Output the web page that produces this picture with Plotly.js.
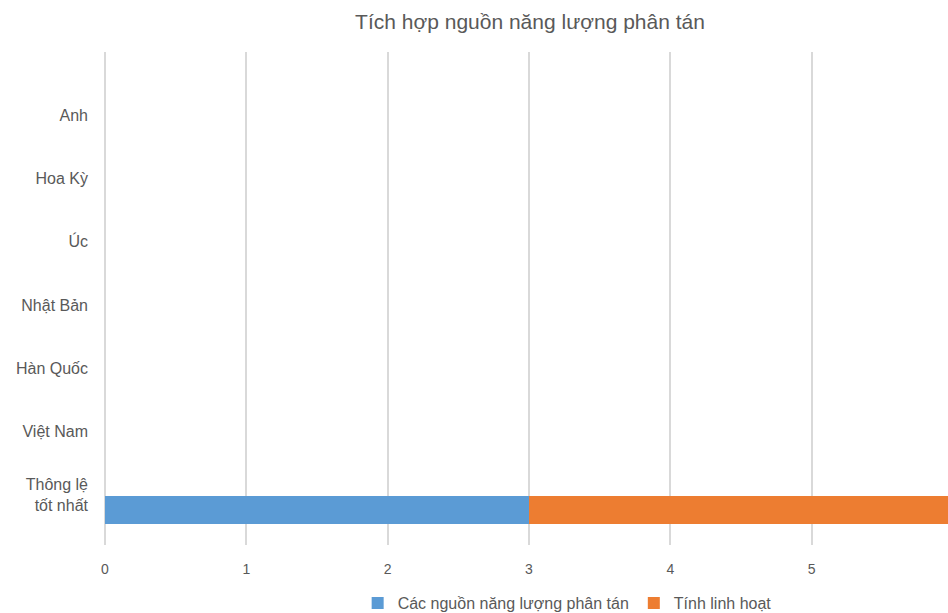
<!DOCTYPE html>
<html>
<head>
<meta charset="utf-8">
<script src="https://cdn.plot.ly/plotly-3.0.1.min.js"></script>
<style>
html,body{margin:0;padding:0;overflow:hidden;background:#fff;width:948px;height:613px;}
#chart{width:1060px;height:613px;}
</style>
</head>
<body>
<div id="chart"></div>
<script>
// Data
const categories = ["Thông lệ<br>tốt nhất", "Việt Nam", "Hàn Quốc", "Nhật Bản", "Úc", "Hoa Kỳ", "Anh"];
const seriesNames = ["Các nguồn năng lượng phân tán", "Tính linh hoạt"];
const distributedSources = [3, null, null, null, null, null, null];
const flexibility = [3, null, null, null, null, null, null];
const xTicks = [0, 1, 2, 3, 4, 5];

const font = "Liberation Sans, Arial, sans-serif";
const grey = "#595959";

const traces = [
  {type: "bar", orientation: "h", name: seriesNames[0], y: categories, x: distributedSources,
   marker: {color: "#5b9bd5"}, offset: -0.458, width: 0.442, hoverinfo: "none"},
  {type: "bar", orientation: "h", name: seriesNames[1], y: categories, x: flexibility,
   marker: {color: "#ed7d31"}, offset: -0.458, width: 0.442, hoverinfo: "none"}
];

const layout = {
  width: 1060, height: 613,
  margin: {l: 105, r: 107, t: 52, b: 68, autoexpand: false},
  paper_bgcolor: "#fff", plot_bgcolor: "#fff",
  barmode: "stack",
  showlegend: true,
  title: {text: "Tích hợp nguồn năng lượng phân tán", font: {family: font, size: 21, color: grey},
          x: 0.5, xref: "container", xanchor: "center", y: 1 - 22/613, yref: "container", yanchor: "middle"},
  xaxis: {range: [0, 6], tickvals: xTicks, showgrid: true, gridcolor: "#d9d9d9", gridwidth: 2,
          zeroline: true, zerolinecolor: "#d9d9d9", zerolinewidth: 2, showline: false, ticks: "",
          ticklabelstandoff: 14, automargin: false,
          tickfont: {family: font, size: 14, color: grey}, fixedrange: true},
  yaxis: {type: "category", range: [-0.79, 6.995], showgrid: false, zeroline: false, showline: false,
          ticks: "", ticklabelstandoff: 16, automargin: false, tickfont: {family: font, size: 16, color: grey}, fixedrange: true},
  legend: {orientation: "h", traceorder: "normal", x: 0.545, xanchor: "center", y: -0.118, yanchor: "middle",
           font: {family: font, size: 16, color: grey}, itemwidth: 30},
  hovermode: false
};

Plotly.newPlot("chart", traces, layout, {displayModeBar: false, staticPlot: true});
</script>
</body>
</html>
